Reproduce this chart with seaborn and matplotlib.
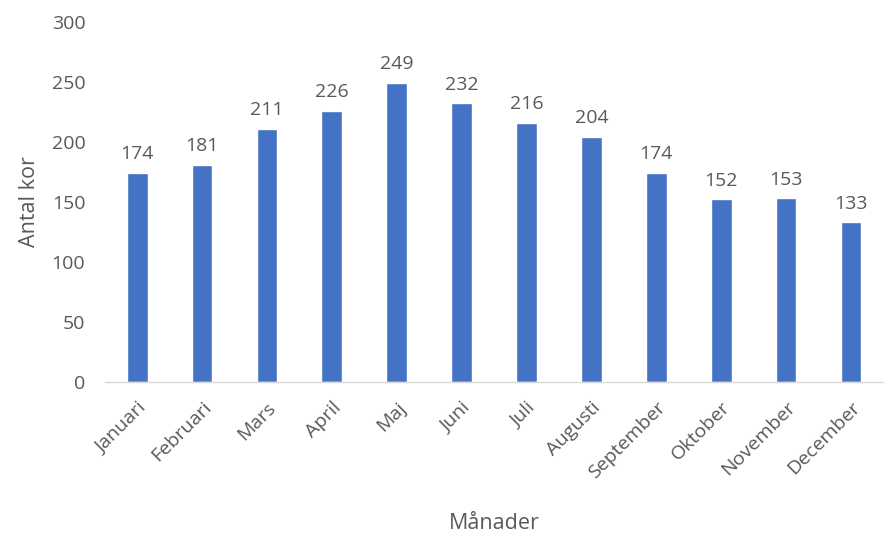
import pandas as pd
import seaborn as sns
import matplotlib
matplotlib.use('Agg')
import matplotlib.pyplot as plt

manader = ["Januari", "Februari", "Mars", "April", "Maj", "Juni", "Juli",
           "Augusti", "September", "Oktober", "November", "December"]
antal_kor = [174, 181, 211, 226, 249, 232, 216, 204, 174, 152, 153, 133]

df = pd.DataFrame({"Månader": manader, "Antal kor": antal_kor})

sns.set_style("white")
plt.rcParams['font.family'] = ['Open Sans', 'DejaVu Sans']
grey = "#595959"

fig = plt.figure(figsize=(8.95, 5.34), dpi=100)
ax = fig.add_axes([0.117, 0.285, 0.87, 0.674])
sns.barplot(data=df, x="Månader", y="Antal kor", color="#4472C4",
            width=0.32, saturation=1, ax=ax)

for c in ax.containers:
    ax.bar_label(c, padding=7, fontsize=14, color=grey)

ax.set_ylim(0, 300)
ax.set_yticks(range(0, 301, 50))
ax.set_xlim(-0.5, len(manader) - 0.5)
ax.tick_params(axis='y', colors=grey, labelsize=14, length=0, pad=14)
ax.tick_params(axis='x', colors=grey, labelsize=14, length=0, pad=12)
plt.setp(ax.get_xticklabels(), rotation=45, ha='right', rotation_mode='anchor')

for s in ["top", "right", "left"]:
    ax.spines[s].set_visible(False)
ax.spines["bottom"].set_color("#D9D9D9")
ax.spines["bottom"].set_linewidth(1)

ax.set_xlabel("Månader", fontsize=15.5, color=grey, labelpad=22)
ax.set_ylabel("Antal kor", fontsize=15.5, color=grey, labelpad=8)

fig.savefig("out.png", dpi=100)
